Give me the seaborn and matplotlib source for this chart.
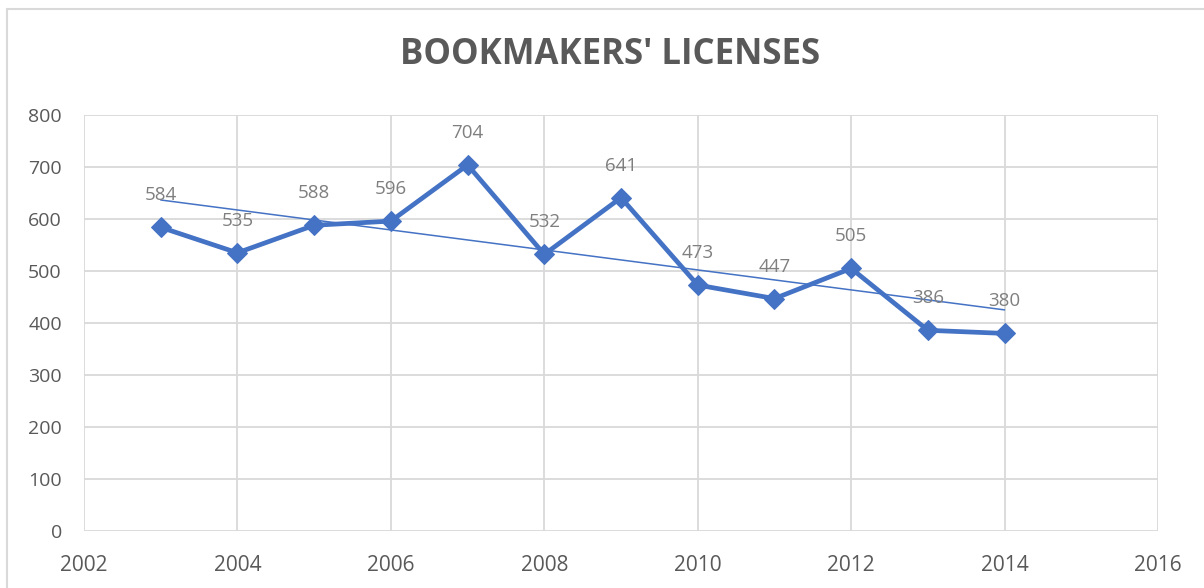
import numpy as np
import pandas as pd
import matplotlib
matplotlib.use("Agg")
import matplotlib.pyplot as plt
import seaborn as sns
from matplotlib.lines import Line2D

# data
years    = [2003, 2004, 2005, 2006, 2007, 2008, 2009, 2010, 2011, 2012, 2013, 2014]
licenses = [584, 535, 588, 596, 704, 532, 641, 473, 447, 505, 386, 380]
x_ticks  = [2002, 2004, 2006, 2008, 2010, 2012, 2014, 2016]
y_ticks  = [0, 100, 200, 300, 400, 500, 600, 700, 800]
title    = "BOOKMAKERS' LICENSES"

BLUE  = "#4472C4"
GRID  = "#d9d9d9"
TICK  = "#595959"
LABEL = "#7f7f7f"

df = pd.DataFrame({"year": years, "licenses": licenses})

sns.set_theme(style="white")
plt.rcParams["font.family"] = ["Open Sans", "DejaVu Sans"]

fig = plt.figure(figsize=(12.04, 5.88), dpi=100)
ax = fig.add_axes([0.0698, 0.0969, 0.8920, 0.7075])

sns.lineplot(data=df, x="year", y="licenses", ax=ax, color=BLUE,
             linewidth=3.4, marker="D", markersize=10.5,
             markeredgecolor=BLUE, zorder=3)

# linear trend line
sns.regplot(data=df, x="year", y="licenses", ax=ax, scatter=False,
            ci=None, truncate=True,
            line_kws={"color": BLUE, "linewidth": 1.1, "zorder": 2})

for x, y in zip(years, licenses):
    ax.annotate(str(y), (x, y), xytext=(0, 23), textcoords="offset points",
                ha="center", va="center", fontsize=13.5, color=LABEL)

ax.set_xlim(x_ticks[0], x_ticks[-1])
ax.set_ylim(y_ticks[0], y_ticks[-1])
ax.set_xticks(x_ticks)
ax.set_yticks(y_ticks)
ax.set_xlabel("")
ax.set_ylabel("")
ax.grid(True, color=GRID, linewidth=1.3)
ax.set_axisbelow(True)
for s in ax.spines.values():
    s.set_visible(False)
ax.tick_params(axis="both", length=0, colors=TICK, labelsize=14)
ax.tick_params(axis="x", pad=17)
ax.tick_params(axis="y", pad=16)
for lab in ax.get_xticklabels():
    lab.set_fontsize(15)

fig.text(0.507, 0.906, title, ha="center", va="center", fontsize=25,
         fontweight="bold", color=TICK)

# chart frame
fig.add_artist(Line2D([0.006, 0.006], [0, 0.985], transform=fig.transFigure,
                      color=GRID, linewidth=1.5))
fig.add_artist(Line2D([0.006, 1], [0.985, 0.985], transform=fig.transFigure,
                      color=GRID, linewidth=1.5))

fig.savefig("out.png", dpi=100)
